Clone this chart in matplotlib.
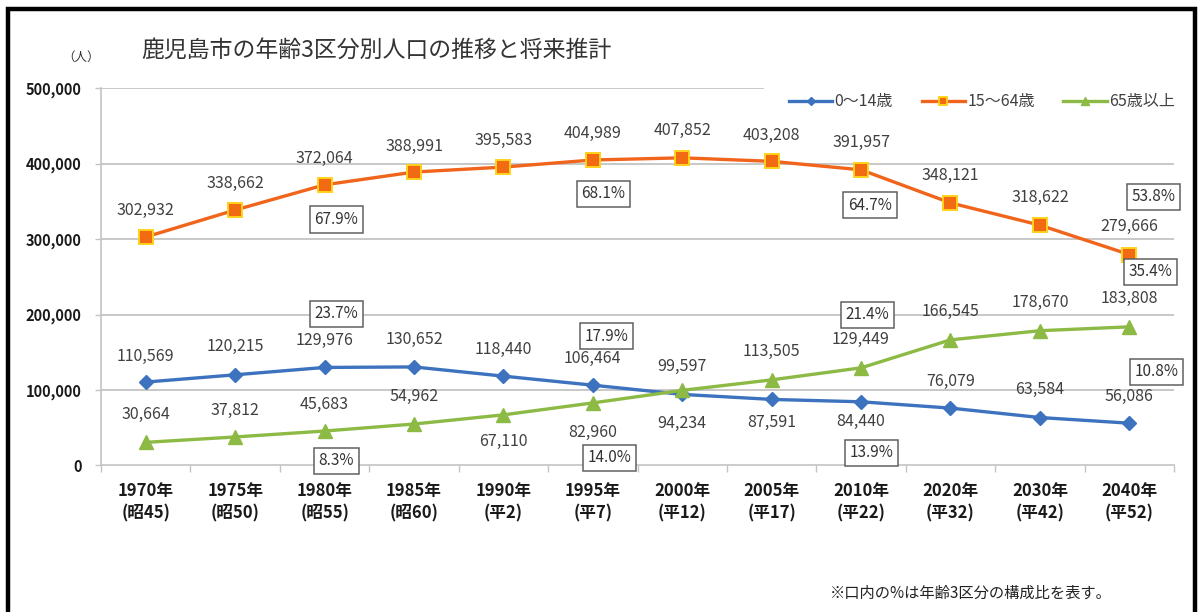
import matplotlib
matplotlib.use('Agg')
import matplotlib.pyplot as plt
from matplotlib.patches import Rectangle

plt.rcParams['font.family'] = ['Noto Sans CJK JP', 'DejaVu Sans']

# ---- data ----
years = ['1970年\n(昭45)', '1975年\n(昭50)', '1980年\n(昭55)', '1985年\n(昭60)',
         '1990年\n(平2)', '1995年\n(平7)', '2000年\n(平12)', '2005年\n(平17)',
         '2010年\n(平22)', '2020年\n(平32)', '2030年\n(平42)', '2040年\n(平52)']
age_0_14 = [110569, 120215, 129976, 130652, 118440, 106464,
            94234, 87591, 84440, 76079, 63584, 56086]
age_15_64 = [302932, 338662, 372064, 388991, 395583, 404989,
             407852, 403208, 391957, 348121, 318622, 279666]
age_65 = [30664, 37812, 45683, 54962, 67110, 82960,
          99597, 113505, 129449, 166545, 178670, 183808]
series_names = ['0～14歳', '15～64歳', '65歳以上']

# 構成比ラベル (text, x位置, y位置)
pct_boxes = [
    ('67.9%', 2.13, 326000), ('68.1%', 5.12, 360000), ('64.7%', 8.10, 345000),
    ('53.8%', 11.27, 356000), ('35.4%', 11.24, 256500),
    ('23.7%', 2.13, 201000), ('17.9%', 5.15, 171500), ('21.4%', 8.07, 199500),
    ('10.8%', 11.30, 124000),
    ('8.3%', 2.13, 6000), ('14.0%', 5.19, 10000), ('13.9%', 8.12, 16600),
]

# ラベルの上下オフセット (pixel)
off_0_14 = [26, 28, 27, 27, 27, 27, -29, -23, -20, 27, 28, 27]
off_15_64 = [27, 27, 26, 26, 27, 27, 27, 26, 27, 27, 28, 28]
off_65 = [28, 27, 27, 28, -27, -30, 24, 28, 28, 28, 28, 28]

yticks = [0, 100000, 200000, 300000, 400000, 500000]

# ---- colors ----
C_BLUE = '#3d72bf'
C_ORANGE = '#f0641c'
C_ORANGE_FACE = '#f26a12'
C_YELLOW = '#ffd21a'
C_GREEN = '#8cba45'
C_TEXT = '#404040'
C_GRID = '#c4c4c4'

fig = plt.figure(figsize=(12.03, 6.12), dpi=100)
ax = fig.add_axes([0.0840, 0.2394, 0.8919, 0.6163])

x = list(range(len(years)))

l1, = ax.plot(x, age_0_14, color=C_BLUE, lw=2.4, marker='D', ms=7.5,
              mfc=C_BLUE, mec=C_BLUE, zorder=4)
l2, = ax.plot(x, age_15_64, color=C_ORANGE, lw=2.4, marker='s', ms=10,
              mfc=C_ORANGE_FACE, mec=C_YELLOW, mew=1.4, zorder=4)
l3, = ax.plot(x, age_65, color=C_GREEN, lw=2.4, marker='^', ms=10,
              mfc=C_GREEN, mec=C_GREEN, zorder=4)

# 数値ラベル
for vals, offs in [(age_0_14, off_0_14), (age_15_64, off_15_64), (age_65, off_65)]:
    for i, (v, o) in enumerate(zip(vals, offs)):
        ax.annotate(f'{v:,}', (i, v), xytext=(0, o), textcoords='offset pixels',
                    ha='center', va='center', fontsize=11.5, color=C_TEXT, zorder=5)

# 構成比ボックス
for txt, px, py in pct_boxes:
    ax.text(px, py, txt, ha='center', va='center', fontsize=11, color='#333333',
            bbox=dict(boxstyle='square,pad=0.3', fc='white', ec='#606060', lw=1.1),
            zorder=6)

# 軸
ax.set_xlim(-0.5, len(years) - 0.5)
ax.set_ylim(0, 500000)
ax.set_xticks([i - 0.5 for i in range(len(years) + 1)])
ax.set_xticklabels([])
ax.set_xticks(x, minor=True)
ax.set_xticklabels(years, minor=True, fontsize=12, fontweight='bold',
                   color='#1a1a1a', linespacing=1.3)
ax.tick_params(axis='x', which='major', length=5, color=C_GRID, width=1)
ax.tick_params(axis='x', which='minor', length=0, pad=12)
ax.set_yticks(yticks)
ax.set_yticklabels([f'{v:,}' for v in yticks], fontsize=10.5, fontweight='bold',
                   color='#1a1a1a')
ax.tick_params(axis='y', length=4, color=C_GRID, width=1, pad=10)

for s in ['top', 'right']:
    ax.spines[s].set_visible(False)
for s in ['left', 'bottom']:
    ax.spines[s].set_color(C_GRID)
    ax.spines[s].set_linewidth(1.2)

for v in yticks[1:]:
    xmax = 0.617 if v == 500000 else 1.0
    ax.axhline(v, xmin=0, xmax=xmax, color=C_GRID, lw=1.3, zorder=1)

leg = ax.legend([l1, l2, l3], series_names, loc='center', bbox_to_anchor=(0.821, 0.964),
                ncol=3, frameon=False, fontsize=11.5, handlelength=2.7,
                handletextpad=0.15, columnspacing=1.8, markerscale=0.55,
                borderaxespad=0)
for t in leg.get_texts():
    t.set_color(C_TEXT)

# タイトル等
fig.text(141 / 1203, 1 - 50 / 612, '鹿児島市の年齢3区分別人口の推移と将来推計',
         fontsize=16.5, color='#333333', ha='left', va='center')
fig.text(81 / 1203, 1 - 57 / 612, '（人）', fontsize=9, color='#333333',
         ha='center', va='center')
fig.text(830 / 1203, 1 - 593 / 612, '※口内の%は年齢3区分の構成比を表す。',
         fontsize=11, color='#222222', ha='left', va='center')

# 外枠
fig.add_artist(Rectangle((8 / 1203, -0.2), (1195 - 8) / 1203, 1.2 - 9 / 612,
                         transform=fig.transFigure, fill=False, ec='black', lw=3.2))

fig.savefig('out.png', dpi=100)
